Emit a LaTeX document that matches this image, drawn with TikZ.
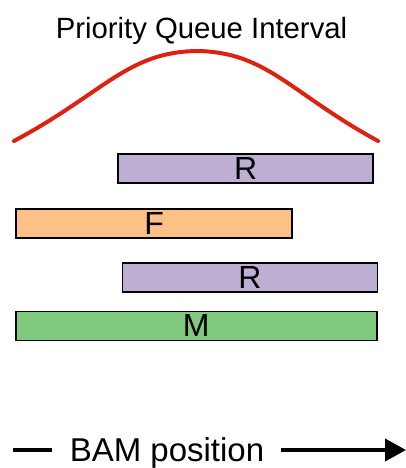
\documentclass[tikz,border=0pt]{standalone}
\usepackage{fontspec}
\setmainfont{Liberation Sans}
\usetikzlibrary{arrows.meta}
\definecolor{rpurple}{HTML}{BEAED4}
\definecolor{forange}{HTML}{FDC086}
\definecolor{mgreen}{HTML}{7FC97F}
\definecolor{curvered}{RGB}{221,34,17}
\tikzset{
  bar/.style={draw=black, line width=1.8pt, rectangle, inner sep=0pt,
    minimum height=29pt, font=\fontsize{32}{32}\selectfont},
  lbl/.style={inner sep=0pt, anchor=base}
}
\begin{document}
\begin{tikzpicture}[x=1pt, y=-1pt]
\useasboundingbox (0,0) rectangle (406,468);
% title
\node[lbl, font=\fontsize{29.3}{29.3}\selectfont] (title) at (201.5,38.3) {Priority Queue Interval};
% bell curve
\draw[curvered, line width=4pt, line cap=round]
  (14,141) .. controls (104,93) and (127,52) .. (197,51)
  .. controls (267,52) and (290,93) .. (378,141);
% bars
\node[bar, fill=rpurple, minimum width=255pt] (r1) at (245.8,168.3) {R};
\node[bar, fill=forange, minimum width=276pt] (f) at (154.2,223.7) {F};
\node[bar, fill=rpurple, minimum width=255pt] (r2) at (250,277.5) {R};
\node[bar, fill=mgreen, minimum width=361pt] (m) at (196.3,325.9) {M};
% axis label
\node[lbl, font=\fontsize{33}{33}\selectfont] (bam) at (167,461) {BAM position};
\coordinate (d1) at (13,450);
\coordinate (d2) at (52,450);
\coordinate (a1) at (281,450);
\coordinate (a2) at (406,450);
\draw[line width=4pt] (d1) -- (d2);
\draw[line width=4pt, -{Triangle[length=21pt,width=22pt]}] (a1) -- (a2);
\end{tikzpicture}
\end{document}
